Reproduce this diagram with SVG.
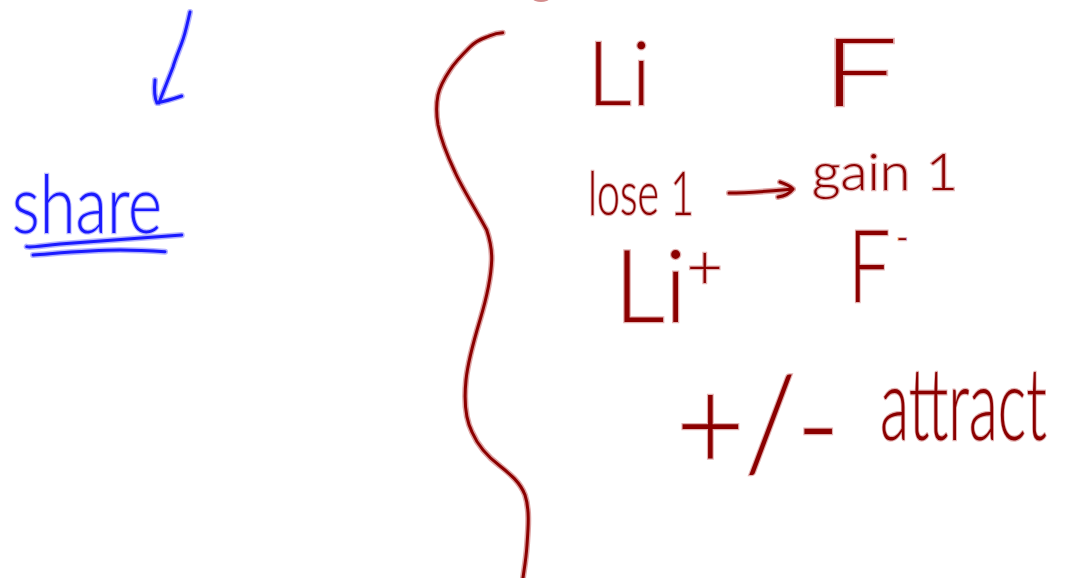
<svg xmlns="http://www.w3.org/2000/svg" width="1065" height="578" viewBox="0 0 1065 578">
<style>
.red{fill:#8b0000;stroke:rgba(160,0,0,0.3);stroke-width:2.5;paint-order:stroke;font-family:Lato,"Open Sans","Liberation Sans",sans-serif;font-weight:300}
.blue{fill:#1a1aff;stroke:rgba(40,40,255,0.3);stroke-width:2.5;paint-order:stroke;font-family:Lato,"Open Sans","Liberation Sans",sans-serif;font-weight:300}
.halo-r{fill:none;stroke:rgba(160,0,0,0.35);stroke-width:6;stroke-linecap:round;stroke-linejoin:round}
.core-r{fill:none;stroke:#8b0000;stroke-width:3;stroke-linecap:round;stroke-linejoin:round}
.halo-b{fill:none;stroke:rgba(40,40,255,0.35);stroke-width:6;stroke-linecap:round;stroke-linejoin:round}
.core-b{fill:none;stroke:#1a1aff;stroke-width:3;stroke-linecap:round;stroke-linejoin:round}
</style>
<defs>
<path id="brace" d="M502.7,32.7 C494,33 490,36 486.7,37 C478,40 474,43 470,47 C462,55 455,62 450,70 C444,79 440,86 438,95 C436,105 436,113 438,125 C441,140 447,155 455,172 C462,188 475,208 486.7,230 C490,240 492,248 491.7,260 C491,280 486,300 480,320 C474,340 468,360 466,380 C464,400 465,418 472,432 C478,446 488,457 500,466 C510,474 520,482 525,495 C530,510 528,530 527,545 C526,560 524,570 523,578"/>
<path id="barrow" d="M190,12 C187,25 185,35 181.7,43 C178,53 175,60 173,67 C168,80 163,92 159,103 M155,80 C154,90 154,97 157,103 C165,101 174,99 181.7,96"/>
<path id="uline" d="M26.7,246.7 C30,248 40,246 60,244 C100,241 140,238 181.7,235 M33,255 C60,253 90,250 120,250 C140,250 155,251 165,251.7"/>
<path id="rarrow" d="M729,193 C750,193 770,191 793,189 M780,182 C786,184 790,186 793,189 C790,193 785,196 778,197"/>
</defs>
<g id="brace-node"><use href="#brace" class="halo-r"/><use href="#brace" class="core-r"/></g>
<g id="top-mark"><ellipse cx="541" cy="-1" rx="8" ry="3" fill="rgba(160,0,0,0.45)"/></g>
<g id="connectors">
<use href="#barrow" class="halo-b"/><use href="#barrow" class="core-b"/>
<use href="#rarrow" class="halo-r"/><use href="#rarrow" class="core-r"/>
</g>
<g id="share-node">
<text class="blue" x="12" y="233" font-size="80" textLength="150" lengthAdjust="spacingAndGlyphs">share</text>
<use href="#uline" class="halo-b"/><use href="#uline" class="core-b"/>
</g>
<g id="li-node"><text class="red" x="587" y="105" font-size="88" textLength="64" lengthAdjust="spacingAndGlyphs">Li</text></g>
<g id="f-node"><text class="red" x="822" y="106" font-size="94" textLength="76" lengthAdjust="spacingAndGlyphs">F</text></g>
<g id="lose-node"><text class="red" x="588" y="215" font-size="62" textLength="106" lengthAdjust="spacingAndGlyphs">lose 1</text></g>
<g id="gain-node"><text class="red" x="812" y="190" font-size="52" textLength="146" lengthAdjust="spacingAndGlyphs">gain 1</text></g>
<g id="liplus-node"><text class="red" x="614" y="322" font-size="100">Li<tspan font-size="62" dy="-34">+</tspan></text></g>
<g id="fminus-node"><text class="red" transform="translate(848,302) scale(0.75,1)" x="0" y="0" font-size="100">F<tspan font-size="44" dx="8" dy="-50">-</tspan></text></g>
<g id="pm-node"><text class="red" x="676" y="470" font-size="130" textLength="164" lengthAdjust="spacingAndGlyphs">+/-</text></g>
<g id="attract-node"><text class="red" transform="translate(880,440) scale(0.6,1)" x="0" y="0" font-size="100">attract</text></g>
</svg>
